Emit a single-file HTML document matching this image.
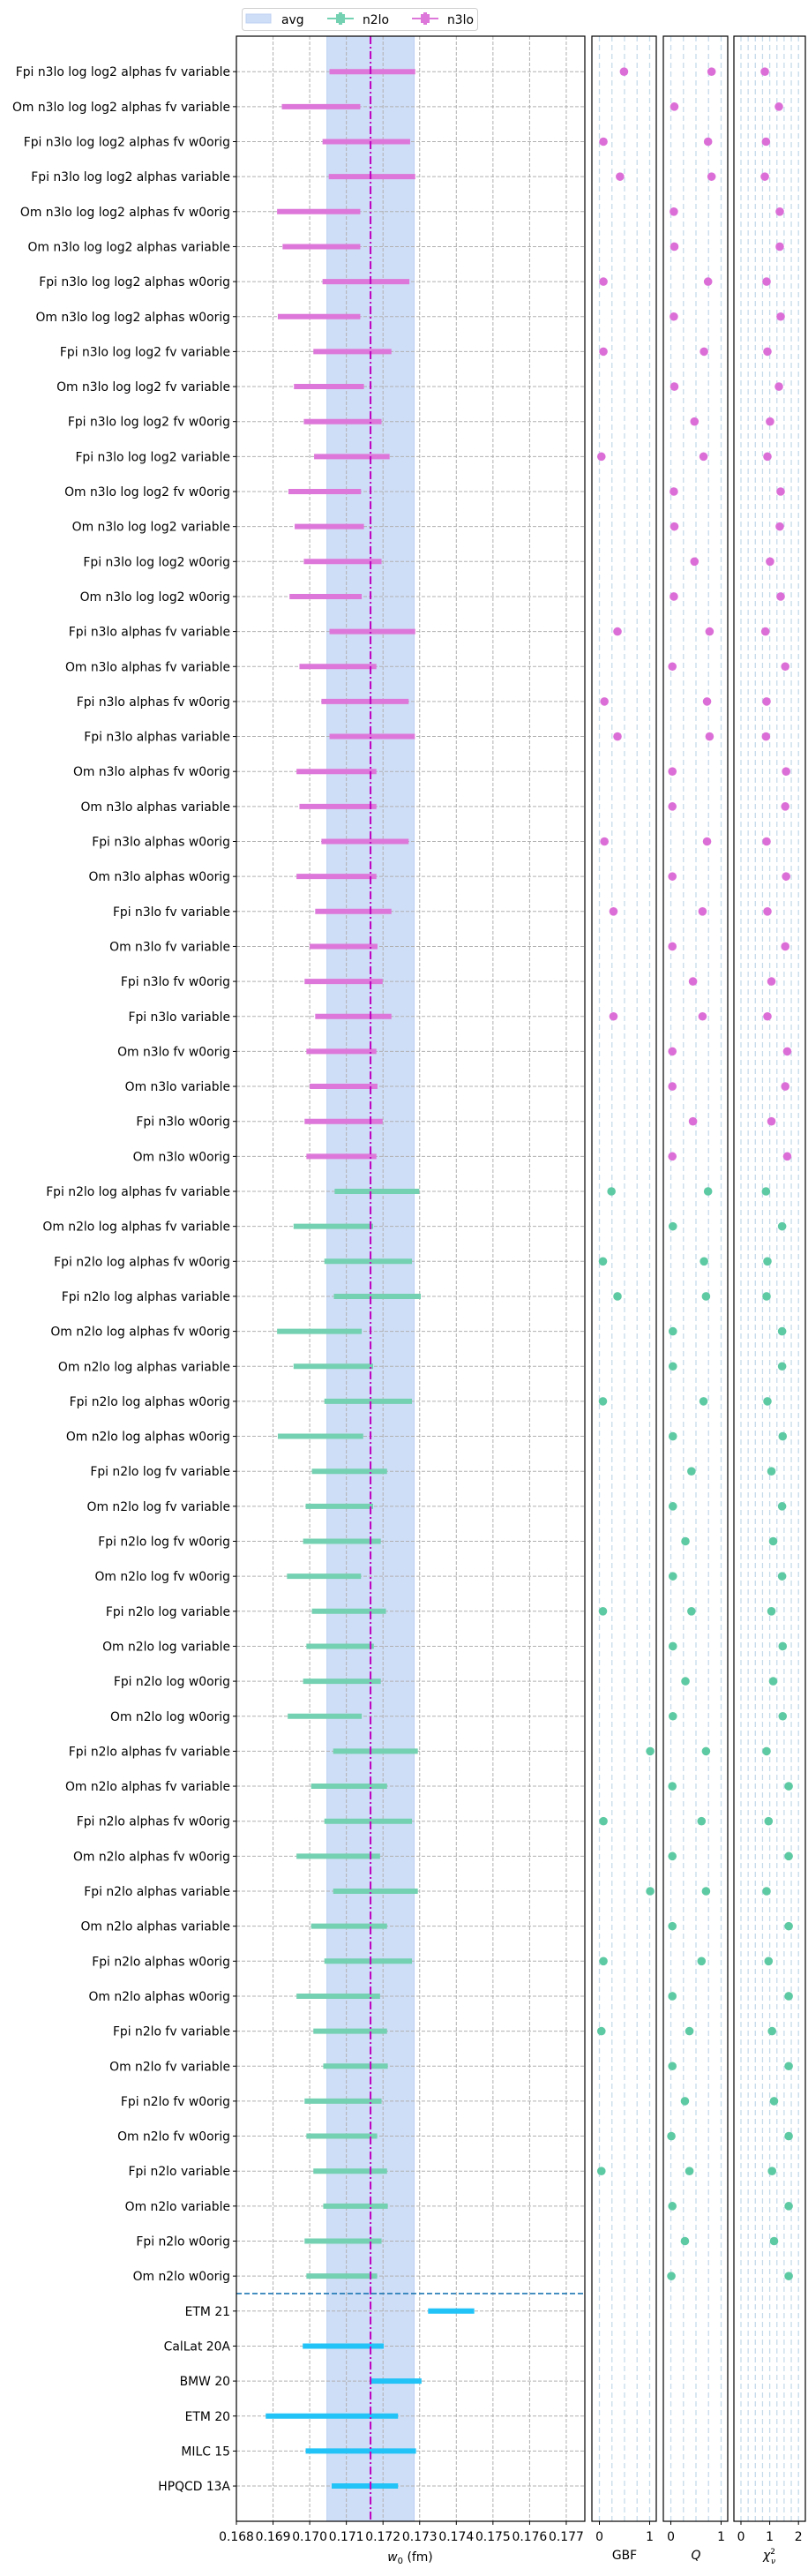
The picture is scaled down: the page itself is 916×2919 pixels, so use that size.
<!DOCTYPE html>
<html><head><meta charset="utf-8"><style>
html,body{margin:0;padding:0;background:#fff;}
svg{display:block;font-family:"DejaVu Sans","Liberation Sans",sans-serif;}
</style></head><body>
<svg id="chart" width="916" height="2919" viewBox="0 0 916 2919" xmlns="http://www.w3.org/2000/svg"></svg>
<script>
const labels = ["Fpi n3lo log log2 alphas fv variable","Om n3lo log log2 alphas fv variable","Fpi n3lo log log2 alphas fv w0orig","Fpi n3lo log log2 alphas variable","Om n3lo log log2 alphas fv w0orig","Om n3lo log log2 alphas variable","Fpi n3lo log log2 alphas w0orig","Om n3lo log log2 alphas w0orig","Fpi n3lo log log2 fv variable","Om n3lo log log2 fv variable","Fpi n3lo log log2 fv w0orig","Fpi n3lo log log2 variable","Om n3lo log log2 fv w0orig","Om n3lo log log2 variable","Fpi n3lo log log2 w0orig","Om n3lo log log2 w0orig","Fpi n3lo alphas fv variable","Om n3lo alphas fv variable","Fpi n3lo alphas fv w0orig","Fpi n3lo alphas variable","Om n3lo alphas fv w0orig","Om n3lo alphas variable","Fpi n3lo alphas w0orig","Om n3lo alphas w0orig","Fpi n3lo fv variable","Om n3lo fv variable","Fpi n3lo fv w0orig","Fpi n3lo variable","Om n3lo fv w0orig","Om n3lo variable","Fpi n3lo w0orig","Om n3lo w0orig","Fpi n2lo log alphas fv variable","Om n2lo log alphas fv variable","Fpi n2lo log alphas fv w0orig","Fpi n2lo log alphas variable","Om n2lo log alphas fv w0orig","Om n2lo log alphas variable","Fpi n2lo log alphas w0orig","Om n2lo log alphas w0orig","Fpi n2lo log fv variable","Om n2lo log fv variable","Fpi n2lo log fv w0orig","Om n2lo log fv w0orig","Fpi n2lo log variable","Om n2lo log variable","Fpi n2lo log w0orig","Om n2lo log w0orig","Fpi n2lo alphas fv variable","Om n2lo alphas fv variable","Fpi n2lo alphas fv w0orig","Om n2lo alphas fv w0orig","Fpi n2lo alphas variable","Om n2lo alphas variable","Fpi n2lo alphas w0orig","Om n2lo alphas w0orig","Fpi n2lo fv variable","Om n2lo fv variable","Fpi n2lo fv w0orig","Om n2lo fv w0orig","Fpi n2lo variable","Om n2lo variable","Fpi n2lo w0orig","Om n2lo w0orig","ETM 21","CalLat 20A","BMW 20","ETM 20","MILC 15","HPQCD 13A"];
const groups = [].concat(Array(32).fill("n3lo"),Array(32).fill("n2lo"),Array(6).fill("ref"));
const w0Low = [170.54,169.24,170.35,170.52,169.11,169.26,170.35,169.13,170.10,169.57,169.84,170.12,169.42,169.59,169.84,169.45,
170.54,169.72,170.32,170.54,169.64,169.72,170.32,169.64,170.15,170.00,169.86,170.15,169.91,170.00,169.86,169.91,
170.68,169.56,170.40,170.66,169.11,169.56,170.40,169.13,170.06,169.89,169.82,169.38,170.06,169.91,169.82,169.40,
170.64,170.04,170.40,169.64,170.64,170.04,170.40,169.64,170.10,170.37,169.86,169.91,170.10,170.37,169.86,169.91,
173.23,169.81,171.66,168.80,169.89,170.60];
const w0High = [172.88,171.38,172.74,172.88,171.38,171.38,172.72,171.38,172.23,171.48,171.96,172.18,171.40,171.48,171.96,171.42,
172.88,171.82,172.70,172.87,171.82,171.82,172.70,171.82,172.23,171.85,171.99,172.23,171.82,171.85,171.99,171.82,
172.99,171.73,172.79,173.03,171.42,171.73,172.79,171.46,172.11,171.73,171.94,171.40,172.08,171.75,171.94,171.42,
172.95,172.11,172.79,171.92,172.95,172.11,172.79,171.92,172.11,172.13,171.96,171.84,172.11,172.13,171.96,171.84,
174.49,172.02,173.05,172.41,172.90,172.41];
const gbfVals = [0.49,null,0.08,0.41,null,null,0.08,null,0.08,null,null,0.04,null,null,null,null,
0.36,null,0.10,0.36,null,null,0.10,null,0.28,null,null,0.28,null,null,null,null,
0.24,null,0.07,0.36,null,null,0.07,null,null,null,null,null,0.07,null,null,null,
1.01,null,0.08,null,1.01,null,0.08,null,0.04,null,null,null,0.04,null,null,null,
null,null,null,null,null,null];
const qVals = [0.81,0.07,0.74,0.81,0.06,0.07,0.74,0.06,0.66,0.07,0.47,0.65,0.06,0.07,0.47,0.06,
0.77,0.03,0.72,0.77,0.03,0.03,0.72,0.03,0.63,0.03,0.44,0.63,0.03,0.03,0.44,0.03,
0.74,0.04,0.66,0.70,0.04,0.04,0.65,0.04,0.41,0.04,0.29,0.04,0.41,0.04,0.29,0.04,
0.70,0.03,0.61,0.03,0.70,0.03,0.61,0.03,0.37,0.03,0.28,0.01,0.37,0.03,0.28,0.01,
null,null,null,null,null,null];
const chiVals = [0.83,1.32,0.87,0.83,1.35,1.35,0.89,1.38,0.92,1.32,1.01,0.92,1.38,1.35,1.01,1.38,
0.85,1.54,0.89,0.87,1.57,1.54,0.89,1.57,0.92,1.54,1.06,0.92,1.61,1.54,1.06,1.61,
0.87,1.43,0.92,0.89,1.43,1.43,0.92,1.45,1.06,1.43,1.12,1.43,1.06,1.45,1.12,1.45,
0.89,1.66,0.96,1.66,0.89,1.66,0.96,1.66,1.08,1.66,1.15,1.66,1.08,1.66,1.15,1.66,
null,null,null,null,null,null];
const avgLow = 170.47, avgHigh = 172.85, avgCenter = 171.66;
const xTicks = [168,169,170,171,172,173,174,175,176,177];
const xTickLabels = ["0.168","0.169","0.170","0.171","0.172","0.173","0.174","0.175","0.176","0.177"];

const SVGNS="http://www.w3.org/2000/svg";
const chartSvg=document.getElementById('chart');
function mk(tag,attrs,parent){const e=document.createElementNS(SVGNS,tag);for(const k in attrs)e.setAttribute(k,attrs[k]);(parent||chartSvg).appendChild(e);return e;}
const axTop=41,axBottom=2857,mL=268,mR=663;
const rowY=i=>81.2+39.65*i;
const xM=v=>mL+(v-168)*41.55;
const xG=v=>679.5+v*57;
const xQ=v=>760.5+v*57;
const xC=v=>840+v*32.6;
const colors={n3lo:"#dd77d9",n2lo:"#74d1b2",ref:"#22c3f7"};
const dotColors={n3lo:"#dc6fd7",n2lo:"#5ecaa4"};
const FS="13.9px";

let band=mk('rect',{x:xM(avgLow),y:axTop,width:xM(avgHigh)-xM(avgLow),height:axBottom-axTop,fill:"#cfdef7",stroke:"#bcd0f3","stroke-width":1});


xTicks.forEach((t,k)=>{
  if(k>0){let g=mk('line',{x1:xM(t),x2:xM(t),y1:axTop,y2:axBottom,stroke:"#b0b0b0","stroke-width":1,"stroke-dasharray":"4,2"});
  
  }
  let tk=mk('line',{x1:xM(t),x2:xM(t),y1:axBottom,y2:axBottom+4,stroke:"#000","stroke-width":1});
  
  
  let tl=mk('text',{x:xM(t),y:axBottom+22,"text-anchor":"middle","font-size":FS,fill:"#000"});
  tl.textContent=xTickLabels[k];
  
  
});
labels.forEach((lab,i)=>{
  const y=rowY(i);
  let g=mk('line',{x1:mL,x2:mR,y1:y,y2:y,stroke:"#b0b0b0","stroke-width":1,"stroke-dasharray":"4,2"});
  
  
  let tk=mk('line',{x1:mL-4,x2:mL,y1:y,y2:y,stroke:"#000","stroke-width":1});
  
  
  let t=mk('text',{x:mL-7,y:y+5,"text-anchor":"end","font-size":FS,fill:"#000"});
  t.textContent=lab;
  
  
});
labels.forEach((lab,i)=>{
  const y=rowY(i);
  let b=mk('line',{x1:xM(w0Low[i]),x2:xM(w0High[i]),y1:y,y2:y,stroke:colors[groups[i]],"stroke-width":6});
  
  
});
let cl=mk('line',{x1:xM(avgCenter),x2:xM(avgCenter),y1:axTop,y2:axBottom,stroke:"#bf00bf","stroke-width":2,"stroke-dasharray":"9,3,2,3"});


let sepY=(rowY(63)+rowY(64))/2;
let sep=mk('line',{x1:mL,x2:mR,y1:sepY,y2:sepY,stroke:"#1f77b4","stroke-width":1.6,"stroke-dasharray":"6,3"});


let fr=mk('rect',{x:mL,y:axTop,width:mR-mL,height:axBottom-axTop,fill:"none",stroke:"#000","stroke-width":1.2});



const panels=[
 {name:'gbf',x0:671,x1:744,fx:xG,vals:gbfVals,grid:[0,0.25,0.5,0.75,1],ticks:[0,1]},
 {name:'q',x0:752,x1:825,fx:xQ,vals:qVals,grid:[0,0.25,0.5,0.75,1],ticks:[0,1]},
 {name:'chi2',x0:832,x1:913,fx:xC,vals:chiVals,grid:[0,0.25,0.5,0.75,1,1.25,1.5,1.75,2],ticks:[0,1,2]}
];
panels.forEach(p=>{
  p.grid.forEach(gv=>{
    let g=mk('line',{x1:p.fx(gv),x2:p.fx(gv),y1:axTop,y2:axBottom,stroke:"#c6dbea","stroke-width":1.3,"stroke-dasharray":"6,4"});
    
    
  });
  p.vals.forEach((v,i)=>{
    if(v===null)return;
    let c=mk('circle',{cx:p.fx(v),cy:rowY(i),r:4.8,fill:dotColors[groups[i]]});
    
    
  });
  p.ticks.forEach(t=>{
    let tk=mk('line',{x1:p.fx(t),x2:p.fx(t),y1:axBottom,y2:axBottom+4,stroke:"#000","stroke-width":1});
    
    
    let tl=mk('text',{x:p.fx(t),y:axBottom+22,"text-anchor":"middle","font-size":FS,fill:"#000"});
    tl.textContent=String(t);
    
    
  });
  let f=mk('rect',{x:p.x0,y:axTop,width:p.x1-p.x0,height:axBottom-axTop,fill:"none",stroke:"#000","stroke-width":1.2});
  
  
});
</script>
<script>
(function(){
const NS="http://www.w3.org/2000/svg";const svg=document.getElementById('chart');
function mk2(tag,attrs,parent){const e=document.createElementNS(NS,tag);for(const k in attrs)e.setAttribute(k,attrs[k]);(parent||svg).appendChild(e);return e;}
const FS="13.9px";
let xt=mk2('text',{x:465,y:2902,"text-anchor":"middle","font-size":FS});
xt.innerHTML='<tspan font-style="italic">w</tspan><tspan font-size="10px" dy="3">0</tspan><tspan dy="-3"> (fm)</tspan>';


let g1=mk2('text',{x:708,y:2900,"text-anchor":"middle","font-size":FS});g1.textContent="GBF";


let g2=mk2('text',{x:789,y:2900,"text-anchor":"middle","font-size":FS,"font-style":"italic"});g2.textContent="Q";


let g3=mk2('text',{x:872,y:2900,"text-anchor":"middle","font-size":FS});
g3.innerHTML='<tspan font-style="italic">χ</tspan><tspan font-size="9px" dy="-6">2</tspan><tspan font-size="9px" font-style="italic" dx="-5" dy="11">ν</tspan>';


let lg=mk2('g',{});


mk2('rect',{x:274.5,y:9.5,width:267,height:25,rx:3,fill:"#fff",stroke:"#d0d0d0","stroke-width":1},lg);
let pa=mk2('rect',{x:279,y:16,width:28,height:10,fill:"#cfdef7",stroke:"#bcd0f3"},lg);


let ta=mk2('text',{x:319,y:27,"font-size":FS},lg);ta.textContent="avg";


mk2('line',{x1:371,x2:401,y1:21,y2:21,stroke:"#74d1b2","stroke-width":2},lg);
mk2('rect',{x:381,y:16,width:10,height:10,fill:"#74d1b2"},lg);
mk2('line',{x1:386,x2:386,y1:14,y2:28,stroke:"#74d1b2","stroke-width":4},lg);
let tn2=mk2('text',{x:411,y:27,"font-size":FS},lg);tn2.textContent="n2lo";


mk2('line',{x1:467,x2:497,y1:21,y2:21,stroke:"#dd77d9","stroke-width":2},lg);
mk2('rect',{x:477,y:16,width:10,height:10,fill:"#dd77d9"},lg);
mk2('line',{x1:482,x2:482,y1:14,y2:28,stroke:"#dd77d9","stroke-width":4},lg);
let tn3=mk2('text',{x:507,y:27,"font-size":FS},lg);tn3.textContent="n3lo";


})();
</script>
</body></html>
